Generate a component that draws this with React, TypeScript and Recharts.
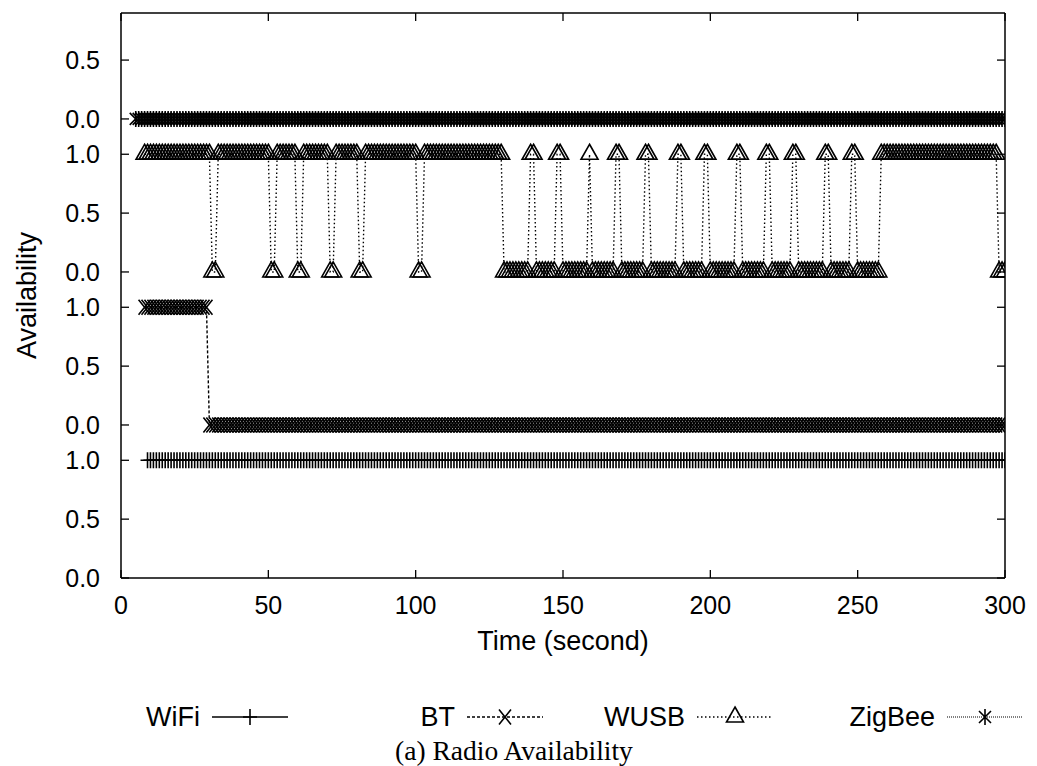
import React from "react";
import { LineChart, Line, XAxis, YAxis } from "recharts";

// one char per second, t = 1 .. 300 ("1" available, "0" not, "." no sample)
const wifiSamples = `
........11 1111111111 1111111111 1111111111 1111111111 1111111111 1111111111 1111111111 1111111111 1111111111
1111111111 1111111111 1111111111 1111111111 1111111111 1111111111 1111111111 1111111111 1111111111 1111111111
1111111111 1111111111 1111111111 1111111111 1111111111 1111111111 1111111111 1111111111 1111111111 1111111111`;

const btSamples = `
.......111 1111111111 1111111110 0000000000 0000000000 0000000000 0000000000 0000000000 0000000000 0000000000
0000000000 0000000000 0000000000 0000000000 0000000000 0000000000 0000000000 0000000000 0000000000 0000000000
0000000000 0000000000 0000000000 0000000000 0000000000 0000000000 0000000000 0000000000 0000000000 0000000000`;

const wusbSamples = `
.......111 1111111111 1111111111 0011111111 1111111111 0011111110 0111111111 0011111111 0011111111 1111111111
0011111111 1111111111 1111111110 0000000011 0000000110 0000000010 0000000110 0000000110 0000000011 0000000110
0000000011 0000000011 0000000110 0000000011 0000000110 0000000111 1111111111 1111111111 1111111111 1111111000`;

const zigbeeSamples = `
....000000 0000000000 0000000000 0000000000 0000000000 0000000000 0000000000 0000000000 0000000000 0000000000
0000000000 0000000000 0000000000 0000000000 0000000000 0000000000 0000000000 0000000000 0000000000 0000000000
0000000000 0000000000 0000000000 0000000000 0000000000 0000000000 0000000000 0000000000 0000000000 0000000000`;

const seriesNames = ["WiFi", "BT", "WUSB", "ZigBee"];
const bandOffsets = [0, 1.3, 2.6, 3.9];
const availTicks = [0, 0.5, 1];
const availLabels = ["0.0", "0.5", "1.0"];
const timeTicks = [0, 50, 100, 150, 200, 250, 300];
const Y_MAX = 4.8;

const FONT = "'Liberation Sans', Arial, Helvetica, sans-serif";
const TICK_FS = 25;
const FS = 27;

const parse = (s: string, offset: number) => {
  const out: { t: number; v: number }[] = [];
  s.replace(/\s/g, "")
    .split("")
    .forEach((ch, i) => {
      if (ch !== ".") out.push({ t: i + 1, v: offset + Number(ch) });
    });
  return out;
};

const wifiData = parse(wifiSamples, bandOffsets[0]);
const btData = parse(btSamples, bandOffsets[1]);
const wusbData = parse(wusbSamples, bandOffsets[2]);
const zigbeeData = parse(zigbeeSamples, bandOffsets[3]);

const yTicks: number[] = [];
const yTickText: string[] = [];
bandOffsets.forEach((o) =>
  availTicks.forEach((a, j) => {
    if (o + a <= Y_MAX) {
      yTicks.push(o + a);
      yTickText.push(availLabels[j]);
    }
  })
);
const yLabel = (v: number) => {
  let best = 0;
  yTicks.forEach((t, i) => {
    if (Math.abs(t - v) < Math.abs(yTicks[best] - v)) best = i;
  });
  return yTickText[best];
};

// markers
type M = { cx: number; cy: number };
const SW = 1.6;
const PlusMark = ({ cx, cy }: M) => (
  <path d={`M${cx - 7},${cy}h14M${cx},${cy - 8}v16`} stroke="#000" strokeWidth={SW} fill="none" />
);
const CrossMark = ({ cx, cy }: M) => (
  <path
    d={`M${cx - 6},${cy - 7.5}L${cx + 6},${cy + 7.5}M${cx - 6},${cy + 7.5}L${cx + 6},${cy - 7.5}`}
    stroke="#000"
    strokeWidth={SW}
    fill="none"
  />
);
const TriMark = ({ cx, cy }: M) => (
  <path
    d={`M${cx},${cy - 10}L${cx + 8.5},${cy + 5}L${cx - 8.5},${cy + 5}Z`}
    stroke="#000"
    strokeWidth={SW}
    fill="none"
  />
);
const StarMark = ({ cx, cy }: M) => (
  <path
    d={`M${cx - 6},${cy - 6}L${cx + 6},${cy + 6}M${cx - 6},${cy + 6}L${cx + 6},${cy - 6}M${cx},${cy - 8}v16`}
    stroke="#000"
    strokeWidth={SW}
    fill="none"
  />
);

const dotOf = (Mark: React.FC<M>) => (p: any) =>
  p.cx == null ? <g key={`e${p.index}`} /> : <Mark key={`m${p.index}`} cx={p.cx} cy={p.cy} />;

// inward ticks, gnuplot style
const LeftTick = (p: any) => {
  const ax = p.x + 21;
  return (
    <g>
      <line x1={ax} x2={ax + 8} y1={p.y} y2={p.y} stroke="#000" strokeWidth={1.3} />
      <text x={p.x} y={p.y} textAnchor="end" dominantBaseline="central" fontSize={TICK_FS} fontFamily={FONT} fill="#000">
        {yLabel(p.payload.value)}
      </text>
    </g>
  );
};
const RightTick = (p: any) => (
  <line x1={p.x} x2={p.x - 8} y1={p.y} y2={p.y} stroke="#000" strokeWidth={1.3} />
);
const BottomTick = (p: any) => {
  const ay = p.y - 27;
  return (
    <g>
      <line x1={p.x} x2={p.x} y1={ay} y2={ay - 8} stroke="#000" strokeWidth={1.3} />
      <text x={p.x} y={p.y} textAnchor="middle" dominantBaseline="central" fontSize={TICK_FS} fontFamily={FONT} fill="#000">
        {p.payload.value}
      </text>
    </g>
  );
};
const TopTick = (p: any) => (
  <line x1={p.x} x2={p.x} y1={p.y} y2={p.y + 8} stroke="#000" strokeWidth={1.3} />
);

const YTitle = ({ viewBox }: any) => {
  const cx = 27;
  const cy = viewBox.y + viewBox.height / 2;
  return (
    <text x={cx} y={cy} transform={`rotate(-90 ${cx} ${cy})`} textAnchor="middle" dominantBaseline="central" fontSize={FS} fontFamily={FONT} fill="#000">
      Availability
    </text>
  );
};
const XTitle = ({ viewBox }: any) => (
  <text x={viewBox.x + viewBox.width / 2} y={viewBox.y + 63} textAnchor="middle" dominantBaseline="central" fontSize={FS} fontFamily={FONT} fill="#000">
    Time (second)
  </text>
);

const legendItems = [
  { name: seriesNames[0], dash: undefined, color: "#000", Mark: PlusMark, right: 200 },
  { name: seriesNames[1], dash: "3 2", color: "#000", Mark: CrossMark, right: 455 },
  { name: seriesNames[2], dash: "1.5 2.5", color: "#000", Mark: TriMark, right: 685 },
  { name: seriesNames[3], dash: "1 1", color: "#555", Mark: StarMark, right: 935 },
];

const axisLine = { stroke: "#000", strokeWidth: 1.5 };

const App: React.FC = () => {
  return (
    <div style={{ position: "absolute", left: 0, top: 0, width: 1037, height: 766, background: "#fff" }}>
      <LineChart width={1037} height={766} margin={{ top: 12, right: 31, bottom: 128, left: 0 }}>
        <XAxis
          type="number"
          dataKey="t"
          domain={[0, 300]}
          ticks={timeTicks}
          interval={0}
          tickLine={false}
          tickSize={0}
          tickMargin={27}
          tick={<BottomTick />}
          axisLine={axisLine}
          height={60}
          allowDataOverflow
          label={<XTitle />}
        />
        <XAxis
          xAxisId="top"
          orientation="top"
          type="number"
          dataKey="t"
          domain={[0, 300]}
          ticks={timeTicks}
          interval={0}
          tickLine={false}
          tickSize={0}
          tickMargin={0}
          tick={<TopTick />}
          axisLine={axisLine}
          height={1}
          allowDataOverflow
        />
        <YAxis
          type="number"
          domain={[0, Y_MAX]}
          ticks={yTicks}
          interval={0}
          tickLine={false}
          tickSize={0}
          tickMargin={21}
          tick={<LeftTick />}
          axisLine={axisLine}
          width={121}
          allowDataOverflow
          label={<YTitle />}
        />
        <YAxis
          yAxisId="right"
          orientation="right"
          type="number"
          domain={[0, Y_MAX]}
          ticks={yTicks}
          interval={0}
          tickLine={false}
          tickSize={0}
          tickMargin={0}
          tick={<RightTick />}
          axisLine={axisLine}
          width={1}
          allowDataOverflow
        />
        <Line data={wifiData} dataKey="v" name="WiFi" stroke="#000" strokeWidth={1.4} dot={dotOf(PlusMark)} activeDot={false} isAnimationActive={false} />
        <Line data={btData} dataKey="v" name="BT" stroke="#000" strokeWidth={1.4} strokeDasharray="3 2" dot={dotOf(CrossMark)} activeDot={false} isAnimationActive={false} />
        <Line data={wusbData} dataKey="v" name="WUSB" stroke="#000" strokeWidth={1.4} strokeDasharray="1.5 2.5" dot={dotOf(TriMark)} activeDot={false} isAnimationActive={false} />
        <Line data={zigbeeData} dataKey="v" name="ZigBee" stroke="#555" strokeWidth={1.4} strokeDasharray="1 1" dot={dotOf(StarMark)} activeDot={false} isAnimationActive={false} />
      </LineChart>
      <svg width={1037} height={766} style={{ position: "absolute", left: 0, top: 0, pointerEvents: "none" }}>
        {legendItems.map((it) => (
          <g key={it.name}>
            <text x={it.right} y={717} textAnchor="end" dominantBaseline="central" fontSize={FS} fontFamily={FONT} fill="#000">
              {it.name}
            </text>
            <line x1={it.right + 12} x2={it.right + 88} y1={717} y2={717} stroke={it.color} strokeWidth={1.4} strokeDasharray={it.dash} />
            <it.Mark cx={it.right + 50} cy={717} />
          </g>
        ))}
        <text x={514} y={750} textAnchor="middle" dominantBaseline="central" fontSize={27.5} fontFamily="'Liberation Serif', 'DejaVu Serif', serif" fill="#000">
          (a) Radio Availability
        </text>
      </svg>
    </div>
  );
};

export default App;
